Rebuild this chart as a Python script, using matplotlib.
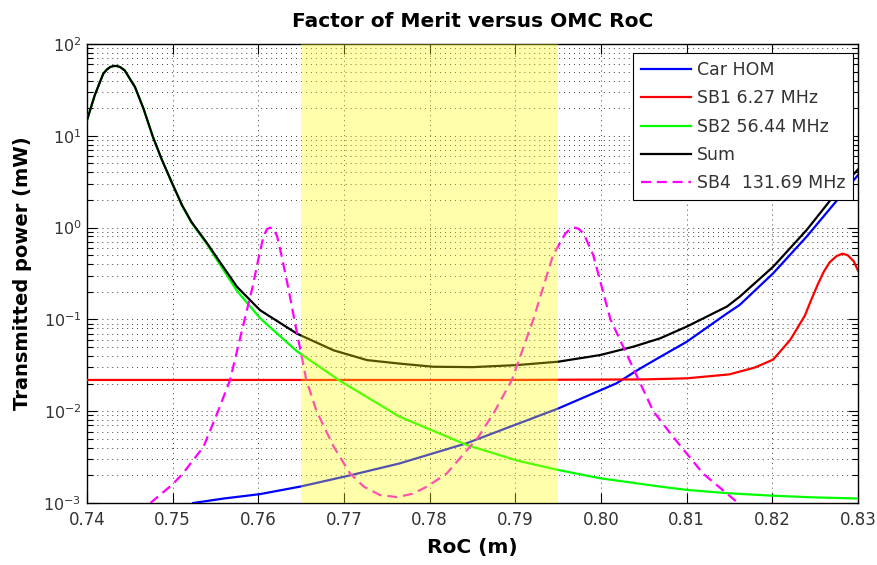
import matplotlib
matplotlib.use('Agg')
import matplotlib.pyplot as plt
from matplotlib.ticker import LogLocator, FixedLocator, FixedFormatter, NullFormatter

# ---------------- data ----------------
x_ticks = [0.74, 0.75, 0.76, 0.77, 0.78, 0.79, 0.80, 0.81, 0.82, 0.83]
x_tick_labels = ['0.74', '0.75', '0.76', '0.77', '0.78', '0.79', '0.80', '0.81', '0.82', '0.83']

band_range = [0.765, 0.795]

car_x = [0.7524, 0.7560, 0.7602, 0.7649, 0.7707, 0.7765, 0.7843, 0.7950, 0.8018, 0.8046,
         0.8069, 0.8100, 0.8147, 0.8162, 0.8201, 0.8240, 0.8279, 0.8300]
car_y = [0.00100, 0.00112, 0.00125, 0.00151, 0.00200, 0.0027, 0.00447, 0.0107, 0.0201, 0.0293,
         0.039, 0.057, 0.116, 0.144, 0.318, 0.796, 2.17, 3.74]

sb1_x = [0.7400, 0.7900, 0.8000, 0.8050, 0.8100, 0.8150, 0.8180, 0.8201, 0.8221,
         0.8238, 0.8245, 0.8253, 0.8260, 0.8267, 0.8275, 0.8282, 0.8288, 0.8295, 0.8300]
sb1_y = [0.0219, 0.0219, 0.0221, 0.0222, 0.0228, 0.0252, 0.0300, 0.0365, 0.060,
         0.110, 0.16, 0.24, 0.33, 0.42, 0.49, 0.52, 0.50, 0.43, 0.34]

sb2_x = [0.7400, 0.7409, 0.7419, 0.7423, 0.7427, 0.7431, 0.7435, 0.7439, 0.7444,
         0.7456, 0.7466, 0.7477, 0.7487, 0.7499, 0.7511, 0.7522, 0.7540, 0.7551,
         0.7575, 0.7602, 0.7645, 0.7695, 0.7765, 0.7843, 0.7902, 0.7950, 0.7999,
         0.8069, 0.8100, 0.8147, 0.8201, 0.8250, 0.8300]
sb2_y = [14.8, 27.6, 47.5, 52.5, 56.1, 57.6, 57.6, 55.8, 51.6,
         34.0, 19.7, 9.7, 5.6, 3.1, 1.73, 1.13, 0.66, 0.455,
         0.205, 0.103, 0.045, 0.0215, 0.0087, 0.0043, 0.0029, 0.00229, 0.00186,
         0.00151, 0.00139, 0.00128, 0.00120, 0.00115, 0.00112]

sum_x = [0.7400, 0.7409, 0.7419, 0.7423, 0.7427, 0.7431, 0.7435, 0.7439, 0.7444,
         0.7456, 0.7466, 0.7477, 0.7487, 0.7499, 0.7511, 0.7522, 0.7540, 0.7551,
         0.7575, 0.7602, 0.7645, 0.7688, 0.7727, 0.7765, 0.7804, 0.7850, 0.7902,
         0.7950, 0.7999, 0.8038, 0.8069, 0.8100, 0.8147, 0.8162, 0.8201, 0.8240,
         0.8271, 0.8300]
sum_y = [14.8, 27.6, 47.5, 52.5, 56.1, 57.6, 57.6, 55.8, 51.6,
         34.0, 19.7, 9.7, 5.6, 3.1, 1.75, 1.15, 0.68, 0.48,
         0.227, 0.126, 0.070, 0.046, 0.036, 0.033, 0.0305, 0.0302, 0.0318,
         0.0346, 0.0409, 0.0505, 0.0622, 0.0834, 0.138, 0.177, 0.375, 0.94,
         2.17, 4.3]

sb4_x = [0.7474, 0.7500, 0.7512, 0.7536, 0.7553, 0.7567, 0.7584, 0.7593, 0.7601,
         0.7606, 0.7610, 0.7614, 0.7618, 0.7622, 0.7627, 0.7635, 0.7642, 0.7656,
         0.7668, 0.7688, 0.7707, 0.7723, 0.7742, 0.7762, 0.7780, 0.7797, 0.7820,
         0.7857, 0.7876, 0.7896, 0.7921, 0.7944, 0.7958, 0.7964, 0.7969, 0.7974,
         0.7980, 0.7991, 0.8011, 0.8044, 0.8061, 0.8084, 0.8119, 0.8160]
sb4_y = [0.00100, 0.00160, 0.0021, 0.0041, 0.0100, 0.0219, 0.100, 0.22, 0.50,
         0.80, 0.96, 1.00, 0.96, 0.80, 0.50, 0.22, 0.100, 0.0219,
         0.0100, 0.0041, 0.0021, 0.00151, 0.00122, 0.00116, 0.00126, 0.00151, 0.0021,
         0.00527, 0.0100, 0.0219, 0.100, 0.50, 0.85, 0.97, 1.00, 0.97,
         0.85, 0.50, 0.100, 0.0219, 0.0100, 0.00527, 0.0021, 0.00100]

labels = ['Car HOM', 'SB1 6.27 MHz', 'SB2 56.44 MHz', 'Sum', 'SB4  131.69 MHz']

# ---------------- figure ----------------
plt.rcParams['font.family'] = ['DejaVu Sans']
fig = plt.figure(figsize=(8.78, 5.65), dpi=100)
ax = fig.add_axes([87 / 878, 1 - 503 / 565, 771 / 878, 459 / 565])
ax.set_yscale('log')

lw = 1.6
ax.plot(car_x, car_y, color=(0, 0, 1), lw=lw, label=labels[0], zorder=3)
ax.plot(sb1_x, sb1_y, color=(1, 0, 0), lw=lw, label=labels[1], zorder=3)
ax.plot(sb2_x, sb2_y, color=(0, 1, 0), lw=lw, label=labels[2], zorder=3)
ax.plot(sum_x, sum_y, color='k', lw=lw, label=labels[3], zorder=4)
ax.plot(sb4_x, sb4_y, color=(1, 0, 1), lw=lw, dashes=(4.5, 2.6), label=labels[4], zorder=5)

ax.axvspan(band_range[0], band_range[1], color=(1, 1, 0), alpha=0.33, lw=0, zorder=6)

ax.set_xlim(0.74, 0.83)
ax.set_ylim(1e-3, 1e2)
ax.xaxis.set_major_locator(FixedLocator(x_ticks))
ax.xaxis.set_major_formatter(FixedFormatter(x_tick_labels))
ax.yaxis.set_major_locator(LogLocator(base=10, numticks=10))
ax.yaxis.set_minor_locator(LogLocator(base=10, subs=range(2, 10), numticks=20))
ax.yaxis.set_minor_formatter(NullFormatter())

grid_style = dict(color='#222222', linestyle=(0, (1, 4.5)), lw=0.65)
ax.grid(True, which='major', axis='both', **grid_style)
ax.grid(True, which='minor', axis='y', **grid_style)

ax.tick_params(axis='both', which='both', direction='in', top=True, right=True,
               labelcolor='#333333', width=0.8)
ax.tick_params(axis='both', which='major', length=7)
ax.tick_params(axis='both', which='minor', length=4)
ax.tick_params(axis='x', labelsize=12, pad=6)
ax.tick_params(axis='y', labelsize=11.5, pad=4)
for s in ax.spines.values():
    s.set_linewidth(1.0)

ax.set_title('Factor of Merit versus OMC RoC', fontsize=14.5, fontweight='bold', pad=12)
ax.set_xlabel('RoC (m)', fontsize=14.5, fontweight='bold', labelpad=6)
ax.set_ylabel('Transmitted power (mW)', fontsize=14, fontweight='bold', labelpad=8)

leg = ax.legend(loc='upper right', bbox_to_anchor=(0.9935, 0.9804), borderaxespad=0,
                fontsize=12.5, frameon=True, fancybox=False, edgecolor='k', framealpha=1,
                handlelength=2.9, handletextpad=0.3, labelspacing=0.6, borderpad=0.45)
leg.get_frame().set_linewidth(0.8)
leg.set_zorder(10)
for t in leg.get_texts():
    t.set_color('#333333')

fig.savefig('out.png', dpi=100)
